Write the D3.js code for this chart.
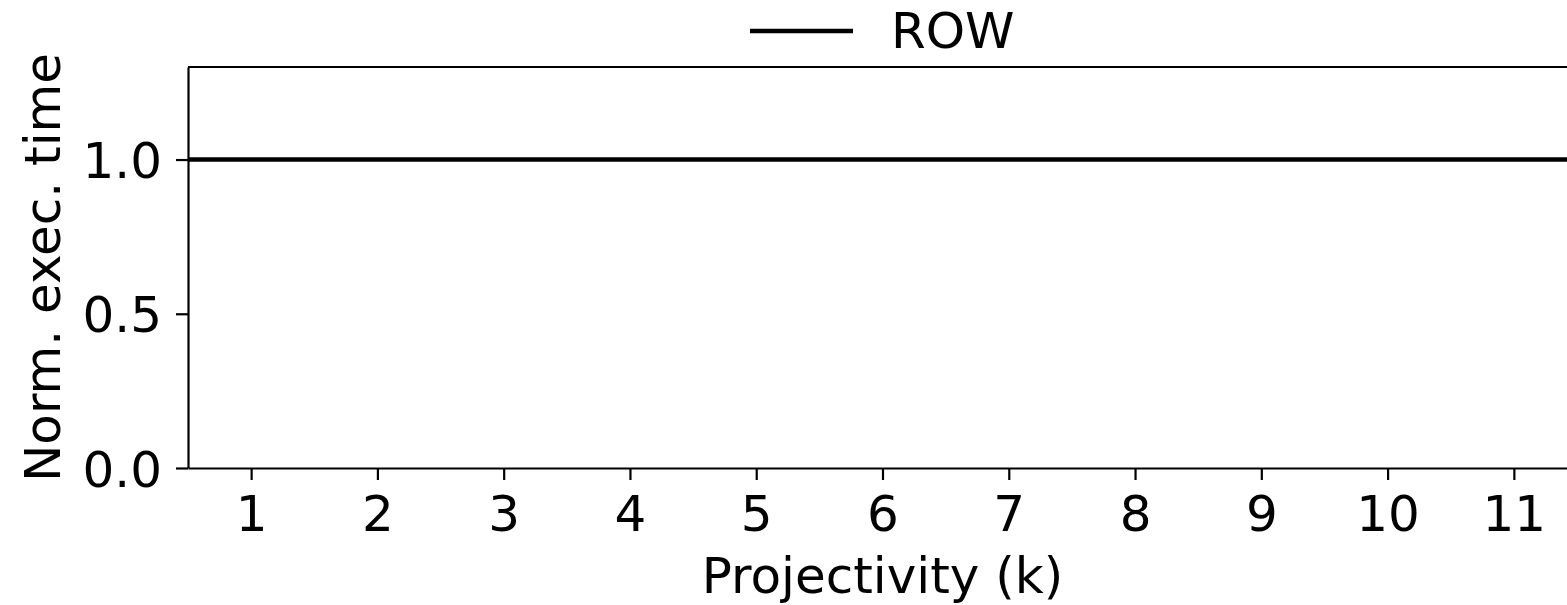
<!DOCTYPE html>
<html>
<head>
<meta charset="utf-8">
<script src="https://cdn.jsdelivr.net/npm/d3@7"></script>
<style>
  body { margin: 0; background: #fff; }
  svg { display: block; font-family: "DejaVu Sans", sans-serif; }
</style>
</head>
<body>
<div id="chart"></div>
<script>
// --- data ---
const projectivity = [1, 2, 3, 4, 5, 6, 7, 8, 9, 10, 11];
const rowTime = [1.0, 1.0, 1.0, 1.0, 1.0, 1.0, 1.0, 1.0, 1.0, 1.0, 1.0];
const yTicks = [0.0, 0.5, 1.0];
const seriesName = "ROW";

const W = 1567, H = 605;
const margin = { left: 188, top: 67, bottom: 137 };
const plotRight = 1577; // right spine falls just past the window edge
const fontPx = 50;

const svg = d3.select("#chart").append("svg")
    .attr("width", W)
    .attr("height", H);

const x = d3.scaleLinear()
    .domain([0.5, 11.5])
    .range([margin.left, plotRight]);

const y = d3.scaleLinear()
    .domain([0, 1.3])
    .range([H - margin.bottom, margin.top]);

// axes
const xAxis = svg.append("g")
    .attr("transform", `translate(0,${y(0)})`)
    .call(d3.axisBottom(x).tickValues(projectivity).tickFormat(d3.format("d"))
        .tickSize(12).tickPadding(15).tickSizeOuter(0));

const yAxis = svg.append("g")
    .attr("transform", `translate(${x(0.5)},0)`)
    .call(d3.axisLeft(y).tickValues(yTicks).tickFormat(d3.format(".1f"))
        .tickSize(12).tickPadding(14).tickSizeOuter(0));

[xAxis, yAxis].forEach(g => {
    g.selectAll("path, line").attr("stroke", "#000").attr("stroke-width", 2.2);
    g.selectAll("text").attr("fill", "#000").style("font-size", fontPx + "px")
        .style("font-family", "DejaVu Sans, sans-serif");
});
yAxis.selectAll("text").attr("dy", "0.36em");
xAxis.selectAll("text").attr("dy", "0.71em");

// top spine
svg.append("line")
    .attr("x1", x(0.5)).attr("x2", x(11.5))
    .attr("y1", y(1.3)).attr("y2", y(1.3))
    .attr("stroke", "#000").attr("stroke-width", 2.2);

// ROW line, spanning the full x range (baseline everything is normalized to)
const ext = x.domain();
const lineData = [{ k: ext[0], v: rowTime[0] }]
    .concat(projectivity.map((k, i) => ({ k, v: rowTime[i] })))
    .concat([{ k: ext[1], v: rowTime[rowTime.length - 1] }]);

svg.append("path")
    .datum(lineData)
    .attr("fill", "none")
    .attr("stroke", "#000")
    .attr("stroke-width", 4.6)
    .attr("d", d3.line().x(d => x(d.k)).y(d => y(d.v)));

// axis labels
svg.append("text")
    .attr("x", (x(0.5) + x(11.5)) / 2)
    .attr("y", 593)
    .attr("text-anchor", "middle")
    .style("font-size", fontPx + "px")
    .text("Projectivity (k)");

svg.append("text")
    .attr("transform", `translate(60,${(y(0) + y(1.3)) / 2}) rotate(-90)`)
    .attr("text-anchor", "middle")
    .style("font-size", fontPx + "px")
    .text("Norm. exec. time");

// legend
const legend = svg.append("g");
legend.append("line")
    .attr("x1", 750).attr("x2", 853)
    .attr("y1", 31).attr("y2", 31)
    .attr("stroke", "#000").attr("stroke-width", 4.6);
legend.append("text")
    .attr("x", 891).attr("y", 48)
    .style("font-size", fontPx + "px")
    .text(seriesName);
</script>
</body>
</html>
